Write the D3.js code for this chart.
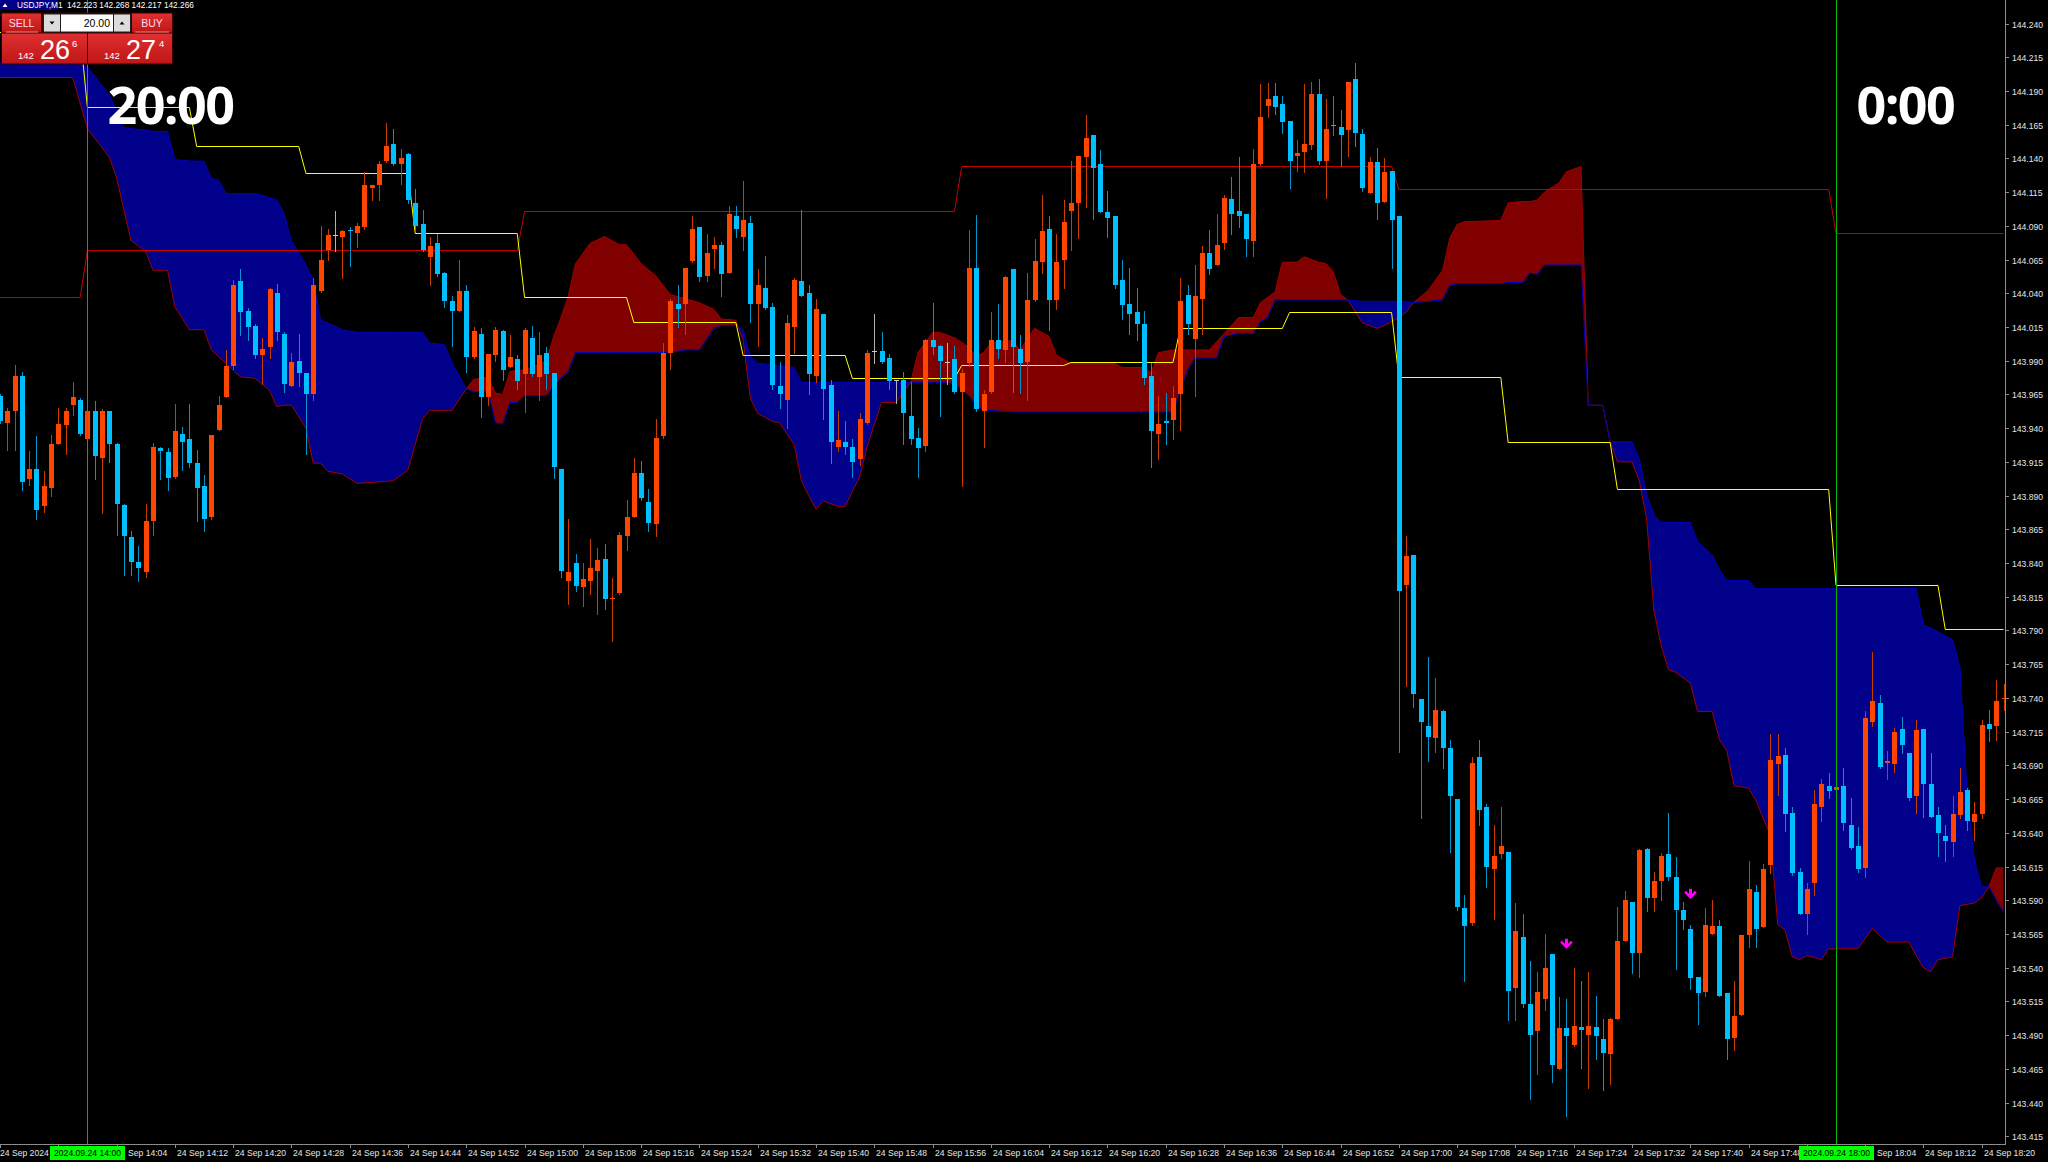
<!DOCTYPE html>
<html>
<head>
<meta charset="utf-8">
<script src="https://cdn.jsdelivr.net/npm/d3@7"></script>
<style>
html, body { margin: 0; padding: 0; background: #000; overflow: hidden; }
svg { display: block; }
</style>
</head>
<body>
<script>
const width = 2048;
const height = 1162;
const plotRight = 2005;
const plotBottom = 1144;

// one-minute bars, bar 0 = 24 Sep 13:48 ; [open, high, low, close]
const candles = [
  [143.964,143.965,143.944,143.945],[143.944,143.955,143.924,143.953],[143.953,143.987,143.924,143.979],[143.979,143.982,143.894,143.900],
  [143.902,143.923,143.898,143.910],[143.910,143.934,143.873,143.879],[143.882,143.908,143.878,143.897],[143.896,143.935,143.890,143.928],
  [143.928,143.955,143.928,143.943],[143.942,143.955,143.921,143.953],[143.957,143.974,143.950,143.963],[143.961,143.962,143.935,143.936],
  [143.932,143.956,143.930,143.953],[143.953,143.960,143.902,143.919],[143.918,143.954,143.877,143.953],[143.953,143.953,143.915,143.928],
  [143.928,143.929,143.861,143.884],[143.883,143.884,143.831,143.860],[143.859,143.864,143.831,143.841],[143.841,143.853,143.827,143.836],
  [143.833,143.884,143.830,143.871],[143.871,143.929,143.861,143.926],[143.925,143.926,143.902,143.923],[143.922,143.925,143.894,143.903],
  [143.904,143.958,143.903,143.938],[143.936,143.941,143.909,143.930],[143.932,143.958,143.911,143.914],[143.914,143.924,143.871,143.896],
  [143.897,143.905,143.864,143.873],[143.874,143.935,143.873,143.935],[143.939,143.964,143.939,143.957],[143.963,143.998,143.963,143.986],
  [143.986,144.050,143.984,144.046],[144.049,144.058,144.009,144.026],[144.027,144.029,144.005,144.015],[144.016,144.017,143.992,143.994],
  [143.994,144.007,143.973,143.999],[144.000,144.044,143.992,144.043],[144.040,144.047,144.005,144.011],[144.010,144.011,143.967,143.973],
  [143.971,143.996,143.971,143.989],[143.990,144.010,143.971,143.981],[143.981,143.981,143.921,143.965],[143.965,144.051,143.961,144.046],
  [144.042,144.090,144.041,144.065],[144.072,144.088,144.065,144.083],[144.083,144.101,144.071,144.083],[144.082,144.087,144.051,144.086],
  [144.087,144.089,144.060,144.086],[144.085,144.092,144.074,144.090],[144.089,144.130,144.088,144.120],[144.118,144.120,144.109,144.120],
  [144.120,144.138,144.109,144.136],[144.138,144.166,144.137,144.149],[144.151,144.162,144.135,144.136],[144.136,144.147,144.121,144.140],
  [144.143,144.144,144.107,144.109],[144.107,144.117,144.088,144.090],[144.091,144.102,144.071,144.072],[144.067,144.082,144.046,144.075],
  [144.077,144.084,144.053,144.054],[144.055,144.056,144.030,144.034],[144.034,144.038,144.001,144.027],[144.027,144.065,144.027,144.042],
  [144.042,144.046,143.982,143.993],[143.993,144.015,143.992,144.012],[144.010,144.014,143.948,143.963],[143.963,143.995,143.957,143.995],
  [143.994,144.015,143.990,144.013],[144.012,144.013,143.976,143.983],[143.985,144.009,143.985,143.993],[143.991,143.994,143.969,143.975],
  [143.980,144.014,143.952,144.013],[144.007,144.016,143.979,143.980],[143.978,144.011,143.961,143.994],[143.996,144.000,143.969,143.980],
  [143.981,143.981,143.903,143.911],[143.910,143.910,143.830,143.834],[143.827,143.873,143.810,143.833],[143.840,143.847,143.819,143.823],
  [143.822,143.840,143.808,143.828],[143.827,143.858,143.817,143.836],[143.834,143.851,143.802,143.842],[143.843,143.854,143.806,143.813],
  [143.813,143.829,143.782,143.814],[143.818,143.863,143.817,143.861],[143.860,143.887,143.850,143.874],[143.874,143.918,143.874,143.907],
  [143.907,143.916,143.887,143.888],[143.885,143.895,143.864,143.870],[143.869,143.947,143.860,143.933],[143.934,144.003,143.933,143.996],
  [143.996,144.036,143.984,144.034],[144.032,144.046,144.015,144.028],[144.032,144.059,144.010,144.059],[144.064,144.097,144.063,144.088],
  [144.089,144.089,144.049,144.052],[144.053,144.084,144.049,144.070],[144.073,144.082,144.059,144.076],[144.076,144.078,144.038,144.054],
  [144.055,144.105,144.055,144.099],[144.097,144.105,144.082,144.088],[144.082,144.123,144.072,144.094],[144.092,144.097,144.019,144.032],
  [144.032,144.058,144.001,144.046],[144.044,144.068,144.028,144.029],[144.030,144.033,143.969,143.972],[143.971,143.989,143.955,143.965],
  [143.961,144.024,143.940,144.018],[144.015,144.051,143.996,144.050],[144.049,144.102,144.038,144.038],[144.040,144.046,143.965,143.980],
  [143.979,144.036,143.974,144.028],[144.025,144.025,143.947,143.969],[143.972,143.976,143.914,143.930],[143.926,143.953,143.923,143.931],
  [143.930,143.945,143.921,143.926],[143.926,143.932,143.904,143.915],[143.917,143.951,143.913,143.947],[143.944,143.998,143.943,143.996],
  [143.997,144.025,143.988,143.997],[143.997,144.011,143.988,143.989],[143.992,143.995,143.969,143.975],[143.976,143.976,143.959,143.976],
  [143.976,143.982,143.928,143.951],[143.949,143.974,143.928,143.932],[143.933,143.940,143.904,143.925],[143.927,144.006,143.923,144.005],
  [144.005,144.033,143.995,144.000],[144.001,144.002,143.949,143.990],[143.989,144.003,143.973,143.989],[143.991,144.001,143.966,143.967],
  [143.967,143.984,143.897,143.981],[143.988,144.087,143.986,144.059],[144.059,144.098,143.953,143.954],[143.953,143.968,143.926,143.965],
  [143.967,144.026,143.966,144.005],[144.005,144.032,143.992,143.999],[143.998,144.053,143.989,144.052],[144.058,144.058,143.967,144.000],
  [143.999,144.009,143.966,143.988],[143.989,144.055,143.961,144.035],[144.035,144.080,144.034,144.064],[144.063,144.113,144.055,144.086],
  [144.088,144.097,144.013,144.035],[144.035,144.084,144.028,144.063],[144.065,144.109,144.044,144.093],[144.101,144.138,144.072,144.107],
  [144.107,144.142,144.081,144.142],[144.141,144.172,144.104,144.155],[144.157,144.157,144.095,144.133],[144.136,144.146,144.100,144.100],
  [144.100,144.116,144.082,144.096],[144.097,144.097,144.044,144.046],[144.050,144.065,144.021,144.031],[144.032,144.059,144.010,144.025],
  [144.026,144.044,144.005,144.017],[144.017,144.027,143.973,143.977],[143.979,143.988,143.911,143.938],[143.936,143.964,143.917,143.943],
  [143.945,143.966,143.928,143.944],[143.946,143.971,143.932,143.962],[143.965,144.051,143.939,144.034],[144.039,144.046,144.010,144.017],
  [144.006,144.061,143.964,144.038],[144.036,144.075,144.010,144.070],[144.070,144.087,144.054,144.058],[144.061,144.099,144.061,144.076],
  [144.077,144.113,144.073,144.111],[144.110,144.126,144.084,144.099],[144.101,144.141,144.089,144.097],[144.099,144.099,144.068,144.080],
  [144.079,144.147,144.068,144.136],[144.136,144.195,144.135,144.171],[144.179,144.196,144.171,144.184],[144.186,144.196,144.173,144.178],
  [144.180,144.186,144.159,144.167],[144.168,144.168,144.118,144.138],[144.142,144.154,144.131,144.144],[144.145,144.195,144.130,144.151],
  [144.150,144.197,144.147,144.188],[144.188,144.199,144.136,144.138],[144.138,144.184,144.111,144.162],[144.165,144.186,144.157,144.164],
  [144.163,144.176,144.134,144.157],[144.161,144.197,144.142,144.197],[144.199,144.211,144.149,144.159],[144.158,144.162,144.116,144.118],
  [144.114,144.141,144.114,144.137],[144.137,144.148,144.095,144.107],[144.108,144.140,144.108,144.130],[144.131,144.131,144.059,144.094],
  [144.097,144.097,143.700,143.819],[143.824,143.860,143.749,143.845],[143.846,143.846,143.733,143.743],[143.739,143.739,143.651,143.722],
  [143.719,143.770,143.693,143.711],[143.710,143.755,143.700,143.731],[143.730,143.731,143.688,143.703],[143.703,143.709,143.626,143.667],
  [143.665,143.665,143.583,143.585],[143.584,143.594,143.530,143.571],[143.573,143.696,143.572,143.692],[143.696,143.709,143.646,143.657],
  [143.659,143.661,143.600,143.615],[143.613,143.646,143.576,143.623],[143.624,143.659,143.621,143.630],[143.626,143.626,143.501,143.523],
  [143.525,143.588,143.501,143.567],[143.563,143.580,143.511,143.513],[143.513,143.545,143.443,143.490],[143.493,143.537,143.461,143.522],
  [143.517,143.565,143.509,143.540],[143.550,143.550,143.455,143.468],[143.465,143.518,143.465,143.495],[143.495,143.517,143.430,143.489],
  [143.483,143.540,143.482,143.497],[143.496,143.530,143.466,143.494],[143.490,143.537,143.451,143.497],[143.496,143.519,143.472,143.489],
  [143.487,143.502,143.449,143.477],[143.476,143.503,143.454,143.502],[143.502,143.585,143.502,143.560],[143.560,143.597,143.560,143.590],
  [143.589,143.589,143.536,143.551],[143.551,143.628,143.533,143.627],[143.628,143.629,143.582,143.592],[143.592,143.611,143.582,143.604],
  [143.604,143.625,143.590,143.623],[143.624,143.655,143.605,143.607],[143.607,143.622,143.539,143.583],[143.583,143.589,143.569,143.575],
  [143.569,143.572,143.524,143.532],[143.533,143.533,143.498,143.521],[143.522,143.584,143.519,143.572],[143.565,143.590,143.565,143.571],
  [143.571,143.575,143.519,143.519],[143.521,143.521,143.472,143.487],[143.488,143.530,143.479,143.504],[143.505,143.564,143.505,143.564],
  [143.564,143.619,143.555,143.598],[143.596,143.601,143.555,143.569],[143.570,143.617,143.570,143.613],[143.616,143.713,143.610,143.694],
  [143.691,143.713,143.668,143.697],[143.698,143.703,143.641,143.654],[143.655,143.659,143.609,143.610],[143.611,143.614,143.580,143.580],
  [143.580,143.603,143.565,143.598],[143.603,143.672,143.594,143.661],[143.659,143.680,143.649,143.676],[143.675,143.684,143.666,143.671],
  [143.672,143.679,143.651,143.674],[143.675,143.688,143.642,143.647],[143.646,143.666,143.628,143.629],[143.630,143.644,143.611,143.613],
  [143.614,143.730,143.607,143.725],[143.722,143.774,143.719,143.738],[143.736,143.742,143.688,143.689],[143.692,143.701,143.680,143.693],
  [143.691,143.718,143.685,143.715],[143.717,143.726,143.699,143.705],[143.699,143.699,143.664,143.666],[143.667,143.724,143.655,143.716],
  [143.717,143.717,143.652,143.676],[143.676,143.699,143.652,143.652],[143.653,143.659,143.623,143.640],[143.638,143.646,143.619,143.634],
  [143.633,143.667,143.623,143.654],[143.653,143.688,143.651,143.670],[143.672,143.673,143.642,143.649],[143.648,143.663,143.635,143.654],
  [143.654,143.724,143.651,143.720],[143.721,143.731,143.708,143.717],[143.719,143.753,143.709,143.738],[143.739,143.750,143.731,143.740]
];

// Ichimoku cloud: [bar, senkou A, senkou B]
const cloudRows = [
  [0,144.200,144.211],[10,144.200,144.211],[12,144.162,144.208],[15,144.141,144.187],[16,144.126,144.176],[17,144.102,144.163],
  [18,144.079,144.162],[20,144.071,144.161],[21,144.057,144.160],[23,144.057,144.160],[24,144.030,144.139],[26,144.013,144.138],
  [28,144.013,144.138],[29,143.998,144.125],[30,143.993,144.124],[31,143.988,144.114],[33,143.978,144.114],[35,143.977,144.114],
  [37,143.968,144.111],[38,143.956,144.109],[39,143.957,144.099],[40,143.957,144.079],[42,143.940,144.061],[43,143.914,144.050],
  [44,143.914,144.020],[45,143.908,144.018],[47,143.906,144.013],[49,143.899,144.011],[54,143.901,144.011],[56,143.909,144.011],
  [58,143.947,144.011],[59,143.953,144.003],[61,143.953,144.002],[62,143.953,143.989],[64,143.969,143.969],[65,143.976,143.967],
  [67,143.978,143.967],[68,143.966,143.944],[69,143.965,143.943],[70,143.982,143.959],[71,143.983,143.959],[72,143.983,143.964],
  [75,143.990,143.964],[76,144.008,143.971],[77,144.022,143.977],[78,144.038,143.982],[79,144.062,143.996],[81,144.077,143.996],
  [83,144.082,143.996],[85,144.076,143.996],[86,144.076,143.996],[88,144.062,143.996],[90,144.053,143.996],[92,144.039,143.996],
  [94,144.036,143.998],[96,144.033,143.998],[98,144.028,144.014],[99,144.021,144.016],[101,144.020,144.016],[102,144.005,144.013],
  [103,143.962,143.993],[104,143.951,143.988],[106,143.945,143.987],[107,143.944,143.986],[109,143.928,143.985],[110,143.901,143.974],
  [111,143.890,143.974],[112,143.880,143.974],[113,143.886,143.974],[115,143.882,143.974],[116,143.882,143.974],[118,143.904,143.974],
  [119,143.926,143.974],[121,143.959,143.974],[123,143.959,143.974],[125,143.974,143.974],[126,143.996,143.974],[128,144.011,143.974],
  [129,144.011,143.974],[131,144.007,143.973],[133,144.000,143.964],[134,143.993,143.957],[135,143.996,143.953],[136,144.003,143.953],
  [139,144.005,143.952],[140,143.998,143.952],[142,144.014,143.952],[144,144.008,143.952],[145,143.994,143.952],[147,143.988,143.952],
  [153,143.988,143.952],[154,143.985,143.952],[157,143.985,143.952],[158,143.981,143.952],[159,143.996,143.952],[161,143.998,143.952],
  [163,143.998,143.983],[164,143.998,143.992],[166,143.998,143.992],[167,144.004,143.992],[168,144.010,144.008],[170,144.022,144.010],
  [172,144.022,144.010],[173,144.033,144.019],[174,144.037,144.022],[175,144.041,144.035],[176,144.063,144.035],[178,144.063,144.035],
  [179,144.067,144.035],[181,144.063,144.035],[182,144.062,144.035],[183,144.056,144.035],[184,144.039,144.035],[185,144.035,144.035],
  [187,144.018,144.034],[189,144.014,144.034],[190,144.016,144.034],[192,144.022,144.034],[193,144.026,144.034],[194,144.033,144.033],
  [196,144.042,144.034],[198,144.057,144.035],[199,144.081,144.046],[200,144.091,144.047],[201,144.093,144.047],[206,144.094,144.047],
  [207,144.107,144.048],[209,144.108,144.048],[210,144.108,144.055],[211,144.109,144.054],[212,144.115,144.061],[214,144.122,144.061],
  [215,144.130,144.061],[217,144.134,144.061],[218,143.957,143.957],[220,143.957,143.957],[221,143.930,143.930],[222,143.915,143.930],
  [224,143.915,143.930],[225,143.901,143.917],[226,143.873,143.891],[227,143.805,143.876],[228,143.779,143.870],[229,143.761,143.870],
  [230,143.759,143.870],[232,143.751,143.870],[233,143.730,143.856],[235,143.730,143.846],[236,143.709,143.835],[237,143.701,143.827],
  [238,143.675,143.827],[240,143.673,143.827],[241,143.664,143.821],[243,143.638,143.821],[244,143.572,143.821],[245,143.568,143.821],
  [246,143.548,143.821],[247,143.546,143.821],[248,143.549,143.821],[250,143.546,143.821],[251,143.554,143.821],[255,143.554,143.821],
  [257,143.569,143.821],[259,143.559,143.821],[262,143.559,143.821],[263,143.549,143.821],[264,143.540,143.794],[265,143.537,143.792],
  [266,143.546,143.789],[268,143.548,143.783],[269,143.586,143.763],[270,143.587,143.669],[271,143.588,143.620],[272,143.592,143.600],
  [273,143.600,143.600],[274,143.614,143.590],[275,143.614,143.581]
];

// higher timeframe lines: [first bar, level]
const yellowSteps = [[0,144.234],[12,144.178],[27,144.149],[42,144.129],[57,144.085],[72,144.037],[87,144.019],[102,143.994],
  [117,143.977],[132,143.987],[147,143.989],[162,144.014],[177,144.026],[192,143.978],[207,143.930],[222,143.895],[252,143.824],[267,143.791]];
const redSteps = [[0,144.037],[12,144.072],[72,144.101],[132,144.134],[192,144.117],[252,144.085]];

const arrows = [[215,143.557],[232,143.594]];
const sessions = [{bar: 12, big: "20:00", box: "2024.09.24 14:00"}, {bar: 252, big: "0:00", box: "2024.09.24 18:00"}];

const priceTicks = ["144.240","144.215","144.190","144.165","144.140","144.115","144.090","144.065","144.040","144.015",
  "143.990","143.965","143.940","143.915","143.890","143.865","143.840","143.815","143.790","143.765","143.740","143.715",
  "143.690","143.665","143.640","143.615","143.590","143.565","143.540","143.515","143.490","143.465","143.440","143.415"];
const timeLabels = ["24 Sep 2024","24 Sep 13:56","24 Sep 14:04","24 Sep 14:12","24 Sep 14:20","24 Sep 14:28","24 Sep 14:36",
  "24 Sep 14:44","24 Sep 14:52","24 Sep 15:00","24 Sep 15:08","24 Sep 15:16","24 Sep 15:24","24 Sep 15:32","24 Sep 15:40",
  "24 Sep 15:48","24 Sep 15:56","24 Sep 16:04","24 Sep 16:12","24 Sep 16:20","24 Sep 16:28","24 Sep 16:36","24 Sep 16:44",
  "24 Sep 16:52","24 Sep 17:00","24 Sep 17:08","24 Sep 17:16","24 Sep 17:24","24 Sep 17:32","24 Sep 17:40","24 Sep 17:48",
  "24 Sep 17:56","24 Sep 18:04","24 Sep 18:12","24 Sep 18:20"];
const labelEvery = 8;

const lastBar = candles.length - 1;

const x = d3.scaleLinear().domain([12, 252]).range([87.4, 1836]);
const y = d3.scaleLinear().domain([143.415, 144.240]).range([1136.3, 23.5]);

const svg = d3.select("body").append("svg")
    .attr("width", width)
    .attr("height", height)
    .style("background", "#000");

const defs = svg.append("defs");
defs.append("clipPath").attr("id", "plot")
  .append("rect").attr("x", 0).attr("y", 0).attr("width", plotRight).attr("height", plotBottom);

const cloud = cloudRows.map(r => ({b: r[0], a: r[1], s: r[2]}));
defs.append("clipPath").attr("id", "aboveB").append("path")
  .attr("d", d3.area().x(d => x(d.b)).y0(0).y1(d => y(d.s))(cloud));
defs.append("clipPath").attr("id", "belowB").append("path")
  .attr("d", d3.area().x(d => x(d.b)).y0(plotBottom).y1(d => y(d.s))(cloud));

const plot = svg.append("g").attr("clip-path", "url(#plot)");

// cloud
const between = d3.area().x(d => x(d.b)).y0(d => y(d.a)).y1(d => y(d.s));
plot.append("path").attr("d", between(cloud)).attr("fill", "#800000").attr("clip-path", "url(#aboveB)");
plot.append("path").attr("d", between(cloud)).attr("fill", "#00008b").attr("clip-path", "url(#belowB)");
plot.append("path").attr("d", d3.line().x(d => x(d.b)).y(d => y(d.a))(cloud))
  .attr("fill", "none").attr("stroke", "#a00000").attr("stroke-width", 1);
plot.append("path").attr("d", d3.line().x(d => x(d.b)).y(d => y(d.s))(cloud))
  .attr("fill", "none").attr("stroke", "#0000c0").attr("stroke-width", 1);

// step lines
function stepPoints(steps) {
  const pts = [];
  steps.forEach(([b, v], k) => {
    const end = k + 1 < steps.length ? steps[k + 1][0] - 1 : lastBar;
    pts.push([b, v], [end, v]);
  });
  return pts;
}
const stepLine = d3.line().x(d => x(d[0])).y(d => Math.round(y(d[1])) + 0.5);
plot.append("path").attr("d", stepLine(stepPoints(redSteps)))
  .attr("fill", "none").attr("stroke", "#c80000").attr("stroke-width", 1);
plot.append("path").attr("d", stepLine(stepPoints(yellowSteps)))
  .attr("fill", "none").attr("stroke", "#ffff00").attr("stroke-width", 1);

// candles
const bars = candles.map((c, i) => ({i, o: c[0], h: c[1], l: c[2], c: c[3]}));
const colorOf = d => d.c > d.o ? "#ff4500" : (d.c < d.o ? "#00bfff" : "#c8c8c8");
const wickOf = d => d.c > d.o ? "#c83c00" : (d.c < d.o ? "#0094c8" : "#b0b0b0");

const cg = plot.append("g").attr("shape-rendering", "crispEdges");
cg.selectAll("line.wick").data(bars).join("line")
  .attr("class", "wick")
  .attr("x1", d => Math.round(x(d.i)) + 0.5)
  .attr("x2", d => Math.round(x(d.i)) + 0.5)
  .attr("y1", d => Math.round(y(d.h)))
  .attr("y2", d => Math.round(y(d.l)) + 1)
  .attr("stroke", wickOf);
cg.selectAll("rect.body").data(bars).join("rect")
  .attr("class", "body")
  .attr("x", d => Math.round(x(d.i)) - 2)
  .attr("width", 5)
  .attr("y", d => Math.round(y(Math.max(d.o, d.c))))
  .attr("height", d => Math.max(1, Math.round(y(Math.min(d.o, d.c))) - Math.round(y(Math.max(d.o, d.c)))))
  .attr("fill", colorOf);

// signal arrows
plot.selectAll("path.arrow").data(arrows).join("path")
  .attr("class", "arrow")
  .attr("transform", d => `translate(${Math.round(x(d[0])) + 0.5},${y(d[1])})`)
  .attr("d", "M-1.5,-6 h3 v5 l3,-3 l1.8,1.8 l-6.3,6.3 l-6.3,-6.3 l1.8,-1.8 l3,3 z")
  .attr("fill", "#ff00ff");

// session lines and labels
const sg = svg.append("g");
sessions.forEach(s => {
  const sx = Math.round(x(s.bar)) + 0.5;
  sg.append("line").attr("x1", sx).attr("x2", sx).attr("y1", 0).attr("y2", plotBottom)
    .attr("stroke", "#00b400").attr("stroke-width", 1);
  sg.append("text").attr("x", sx + 20).attr("y", 124)
    .attr("fill", "#fff").attr("font-family", "'Open Sans', 'Liberation Sans', sans-serif")
    .attr("font-weight", 700).attr("font-size", 52).attr("letter-spacing", -1.6).text(s.big);
});

// axes
const axisColor = "#8c8c8c";
const labelFont = "'Liberation Sans', Arial, sans-serif";
svg.append("line").attr("x1", plotRight + 0.5).attr("x2", plotRight + 0.5).attr("y1", 0).attr("y2", plotBottom + 1)
  .attr("stroke", axisColor);
svg.append("line").attr("x1", 0).attr("x2", plotRight + 1).attr("y1", plotBottom + 0.5).attr("y2", plotBottom + 0.5)
  .attr("stroke", axisColor);

const py = svg.append("g");
priceTicks.forEach(t => {
  const ty = Math.round(y(+t)) + 0.5;
  py.append("line").attr("x1", plotRight).attr("x2", plotRight + 4).attr("y1", ty).attr("y2", ty).attr("stroke", axisColor);
  py.append("text").attr("x", plotRight + 7).attr("y", ty + 3).attr("fill", "#e6e6e6")
    .attr("font-family", labelFont).attr("font-size", 8.6).text(t);
});

// time labels; the green session boxes sit over whatever label falls under them
const boxHalf = 37.5;
const tx = svg.append("g");
timeLabels.forEach((t, k) => {
  const lx = Math.round(x(k * labelEvery)) + 0.5;
  tx.append("line").attr("x1", lx).attr("x2", lx).attr("y1", plotBottom).attr("y2", plotBottom + 4).attr("stroke", axisColor);
  const box = sessions.map(s => x(s.bar)).find(sx => lx > sx - boxHalf && lx < sx + boxHalf);
  if (box === undefined) {
    tx.append("text").attr("x", lx + (k === 0 ? -0.5 : 1.5)).attr("y", 1156).attr("fill", "#e6e6e6")
      .attr("font-family", labelFont).attr("font-size", 8.6).text(t);
  } else if (lx + 52 > box + boxHalf) {
    tx.append("text").attr("x", Math.round(box + boxHalf) + 3).attr("y", 1156).attr("fill", "#e6e6e6")
      .attr("font-family", labelFont).attr("font-size", 8.6).text(t.slice(3));
  }
});
sessions.forEach(s => {
  const sx = Math.round(x(s.bar)) + 0.5;
  tx.append("rect").attr("x", sx - boxHalf).attr("y", 1146).attr("width", boxHalf * 2).attr("height", 14).attr("fill", "#00ff00");
  tx.append("text").attr("x", sx).attr("y", 1156).attr("text-anchor", "middle").attr("fill", "#000")
    .attr("font-family", labelFont).attr("font-size", 8.6).text(s.box);
});

// header
const hd = svg.append("g").attr("font-family", labelFont);
hd.append("rect").attr("x", 0).attr("y", 0).attr("width", 58).attr("height", 10).attr("fill", "#00008b");
hd.append("path").attr("d", "M2.5,7 L5,3.5 L7.5,7 Z").attr("fill", "#fff");
hd.append("text").attr("x", 17).attr("y", 8).attr("fill", "#fff").attr("font-size", 8.3).text("USDJPY,M1");
hd.append("text").attr("x", 67).attr("y", 8).attr("fill", "#fff").attr("font-size", 8.3).text("142.223 142.268 142.217 142.266");

// one click trading panel
const pn = svg.append("g").attr("font-family", labelFont);
const grad = defs.append("linearGradient").attr("id", "btn").attr("x1", 0).attr("x2", 0).attr("y1", 0).attr("y2", 1);
grad.append("stop").attr("offset", "0%").attr("stop-color", "#de3030");
grad.append("stop").attr("offset", "100%").attr("stop-color", "#c01616");
pn.append("rect").attr("x", 1).attr("y", 12.5).attr("width", 172).attr("height", 52).attr("fill", "#3a0000");
pn.append("rect").attr("x", 2).attr("y", 13.5).attr("width", 39).attr("height", 19).attr("fill", "url(#btn)");
pn.append("rect").attr("x", 132).attr("y", 13.5).attr("width", 40).attr("height", 19).attr("fill", "url(#btn)");
pn.append("line").attr("x1", 6).attr("x2", 38).attr("y1", 32).attr("y2", 32).attr("stroke", "#f08080");
pn.append("line").attr("x1", 135).attr("x2", 169).attr("y1", 32).attr("y2", 32).attr("stroke", "#f08080");
pn.append("text").attr("x", 21.5).attr("y", 27).attr("text-anchor", "middle").attr("fill", "#fde").attr("font-size", 10.5).text("SELL");
pn.append("text").attr("x", 152).attr("y", 27).attr("text-anchor", "middle").attr("fill", "#fde").attr("font-size", 10.5).text("BUY");
pn.append("rect").attr("x", 43).attr("y", 13.5).attr("width", 88).attr("height", 19).attr("fill", "#202020");
pn.append("rect").attr("x", 44).attr("y", 14.5).attr("width", 16).attr("height", 17).attr("fill", "#dcdcdc");
pn.append("rect").attr("x", 61).attr("y", 14.5).attr("width", 52).attr("height", 17).attr("fill", "#fff");
pn.append("rect").attr("x", 114).attr("y", 14.5).attr("width", 16).attr("height", 17).attr("fill", "#dcdcdc");
pn.append("path").attr("d", "M49.5,21.5 h5 l-2.5,3 z").attr("fill", "#000");
pn.append("path").attr("d", "M119.5,24.5 h5 l-2.5,-3 z").attr("fill", "#000");
pn.append("text").attr("x", 110).attr("y", 27).attr("text-anchor", "end").attr("fill", "#000").attr("font-size", 10.5).text("20.00");
pn.append("rect").attr("x", 2).attr("y", 33.5).attr("width", 85).attr("height", 30).attr("fill", "url(#btn)");
pn.append("rect").attr("x", 88).attr("y", 33.5).attr("width", 84).attr("height", 30).attr("fill", "url(#btn)");
[[18, 40, 72, "26", "6"], [104, 126, 159, "27", "4"]].forEach(([a, b, c, big, sup]) => {
  pn.append("text").attr("x", a).attr("y", 59).attr("fill", "#fff").attr("font-size", 9.5).text("142");
  pn.append("text").attr("x", b).attr("y", 59).attr("fill", "#fff").attr("font-size", 27).text(big);
  pn.append("text").attr("x", c).attr("y", 47).attr("fill", "#fff").attr("font-size", 9.5).text(sup);
});
</script>
</body>
</html>
